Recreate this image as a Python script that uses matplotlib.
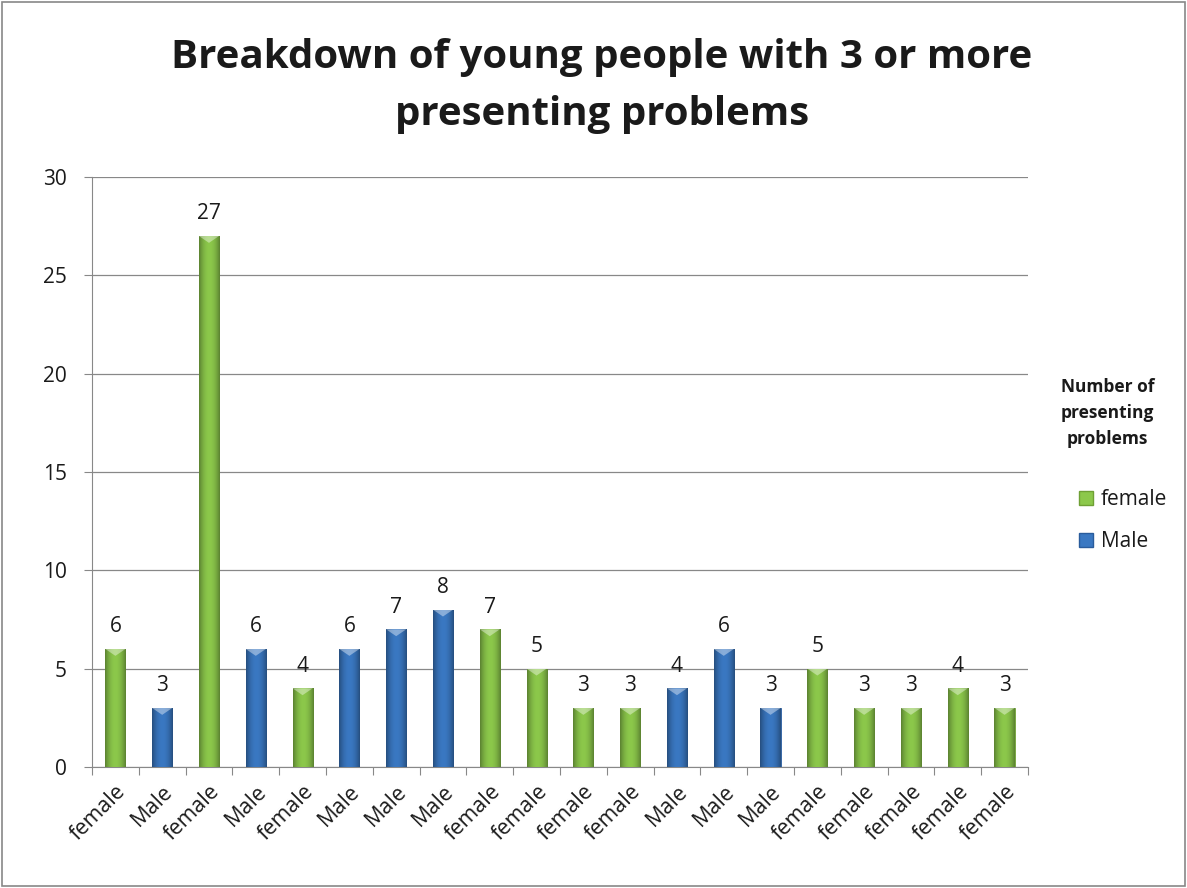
import numpy as np
import matplotlib.pyplot as plt
from matplotlib.patches import Patch, Rectangle

categories = ['female', 'Male', 'female', 'Male', 'female', 'Male', 'Male', 'Male',
              'female', 'female', 'female', 'female', 'Male', 'Male', 'Male',
              'female', 'female', 'female', 'female', 'female']
values = [6, 3, 27, 6, 4, 6, 7, 8, 7, 5, 3, 3, 4, 6, 3, 5, 3, 3, 4, 3]

green = '#8CC84B'
blue = '#3A78C2'
green_dark = '#6FA035'
blue_dark = '#2A5C9C'

plt.rcParams['font.family'] = ['Open Sans', 'DejaVu Sans']
plt.rcParams['text.color'] = '#1a1a1a'

fig = plt.figure(figsize=(11.87, 8.88), dpi=100)
fig.patches.append(Rectangle((0.002, 0.002), 0.996, 0.996, transform=fig.transFigure,
                             fill=False, edgecolor='#888888', lw=1.2))
ax = fig.add_axes([0.0775, 0.1363, 0.7885, 0.6644])

x = np.arange(len(values))
cols = [green if c == 'female' else blue for c in categories]
edges = [green_dark if c == 'female' else blue_dark for c in categories]
bars = ax.bar(x, values, width=0.43, color=cols, edgecolor=edges, linewidth=0.6, zorder=3)

# horizontal shading for the cylinder look
grad = np.linspace(-1, 1, 64)
shade = 1 - 0.35 * grad ** 2
for b, c in zip(bars, cols):
    rgb = np.array(plt.matplotlib.colors.to_rgb(c))
    img = np.clip(rgb[None, :] * shade[:, None], 0, 1)[None, :, :]
    x0, y0 = b.get_x(), b.get_y()
    im = ax.imshow(img, extent=[x0, x0 + b.get_width(), y0, y0 + b.get_height()],
                   aspect='auto', zorder=4, interpolation='bilinear')
    im.set_clip_path(b)
    # light cap at the top
    ax.fill([x0, x0 + b.get_width(), x0 + b.get_width() / 2],
            [b.get_height(), b.get_height(), b.get_height() - 0.35],
            color='white', alpha=0.4, zorder=5, lw=0)

for xi, v in zip(x, values):
    ax.text(xi, v + 0.6, str(v), ha='center', va='bottom', fontsize=15)

ax.set_xlim(-0.5, len(values) - 0.5)
ax.set_ylim(0, 30)
ax.set_yticks(range(0, 31, 5))
ax.yaxis.grid(True, color='#888888', linewidth=0.9, zorder=0)
ax.set_axisbelow(True)
ax.set_xticks(np.arange(-0.5, len(values), 1), minor=False)
ax.set_xticklabels([])
ax.set_xticks(x, minor=True)
ax.set_xticklabels(categories, minor=True, rotation=45, ha='right', rotation_mode='anchor',
                   fontsize=15.5, color='#1a1a1a')
ax.tick_params(axis='x', which='minor', length=0, pad=10)
ax.tick_params(axis='x', which='major', length=6, color='#888888')
ax.tick_params(axis='y', length=6, color='#888888', labelsize=15, pad=12,
               labelcolor='#1a1a1a')
for s in ['top', 'right']:
    ax.spines[s].set_visible(False)
for s in ['left', 'bottom']:
    ax.spines[s].set_color('#888888')

fig.suptitle('Breakdown of young people with 3 or more\npresenting problems',
             fontsize=29, fontweight='bold', y=0.957, x=0.507, linespacing=1.6)

fig.text(0.933, 0.495, 'Number of\npresenting\nproblems', ha='center', va='bottom',
         fontsize=12.5, fontweight='bold', linespacing=1.6)
handles = [Patch(facecolor=green, edgecolor=green_dark, label='female'),
           Patch(facecolor=blue, edgecolor=blue_dark, label='Male')]
fig.legend(handles=handles, loc='upper left', bbox_to_anchor=(0.893, 0.47),
           frameon=False, fontsize=15, handlelength=0.7, handleheight=0.7,
           handletextpad=0.35, labelspacing=1.0)

fig.savefig('out.png', dpi=100)
